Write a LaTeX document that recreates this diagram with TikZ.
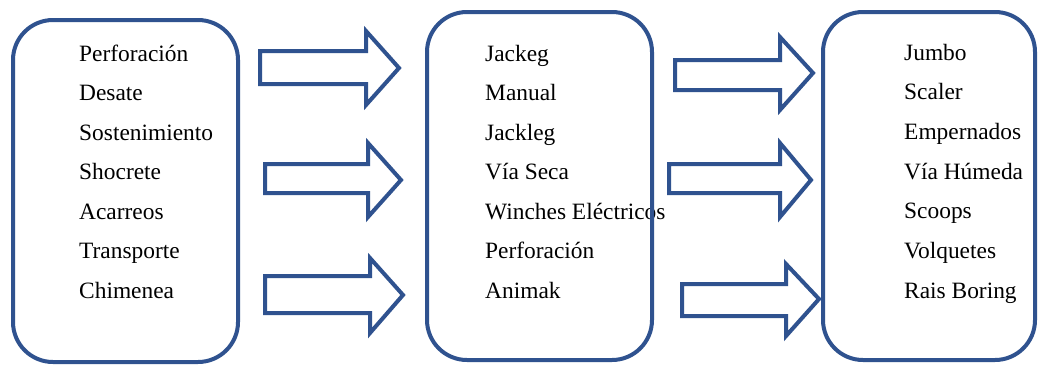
\documentclass[tikz,border=0pt]{standalone}
\usepackage{fontspec}
\setmainfont{Liberation Serif}
\definecolor{outl}{HTML}{2F528F}
\begin{document}
\begin{tikzpicture}[x=1pt,y=-1pt,
  item/.style={anchor=base west,inner sep=0pt,font=\fontsize{23.4}{28}\selectfont},
  panel/.style={draw=outl,line width=4pt,rounded corners=40pt,inner sep=0pt},
  blockarrow/.style={draw=outl,fill=white,line width=4pt,line join=miter}]
\useasboundingbox[fill=white] (0,0) rectangle (1038,364);
% texts
\foreach \t [count=\i from 0] in {Perforación,Desate,Sostenimiento,Shocrete,Acarreos,Transporte,Chimenea}
  \node[item] (a\i) at (79,61+39.5*\i) {\t};
\foreach \t [count=\i from 0] in {Jackeg,Manual,Jackleg,Vía Seca,Winches Eléctricos,Perforación,Animak}
  \node[item] (b\i) at (485,61+39.5*\i) {\t};
\foreach \t [count=\i from 0] in {Jumbo,Scaler,Empernados,Vía Húmeda,Scoops,Volquetes,Rais Boring}
  \node[item] (c\i) at (904,60+39.7*\i) {\t};
% boxes
\node[panel,minimum width=225pt,minimum height=342pt] (box1) at (125.5,191) {};
\node[panel,minimum width=225pt,minimum height=348pt] (box2) at (539.5,186) {};
\node[panel,minimum width=212pt,minimum height=348pt] (box3) at (929,186) {};
% block arrows
\draw[blockarrow] (260,51) -- (366,51) -- (366,31) -- (399,68) -- (366,105) -- (366,84) -- (260,84) -- cycle;
\draw[blockarrow] (265,164) -- (368,164) -- (368,143) -- (401,180) -- (368,217) -- (368,193) -- (265,193) -- cycle;
\draw[blockarrow] (265,276) -- (370,276) -- (370,258) -- (403,295) -- (370,333) -- (370,313) -- (265,313) -- cycle;
\draw[blockarrow] (675,60) -- (780,60) -- (780,37) -- (813,73) -- (780,110) -- (780,90) -- (675,90) -- cycle;
\draw[blockarrow] (669,164) -- (780,164) -- (780,143) -- (811,180) -- (780,217) -- (780,193) -- (669,193) -- cycle;
\draw[blockarrow] (682,284) -- (786,284) -- (786,264) -- (819,299) -- (786,336) -- (786,316) -- (682,316) -- cycle;
\end{tikzpicture}
\end{document}
